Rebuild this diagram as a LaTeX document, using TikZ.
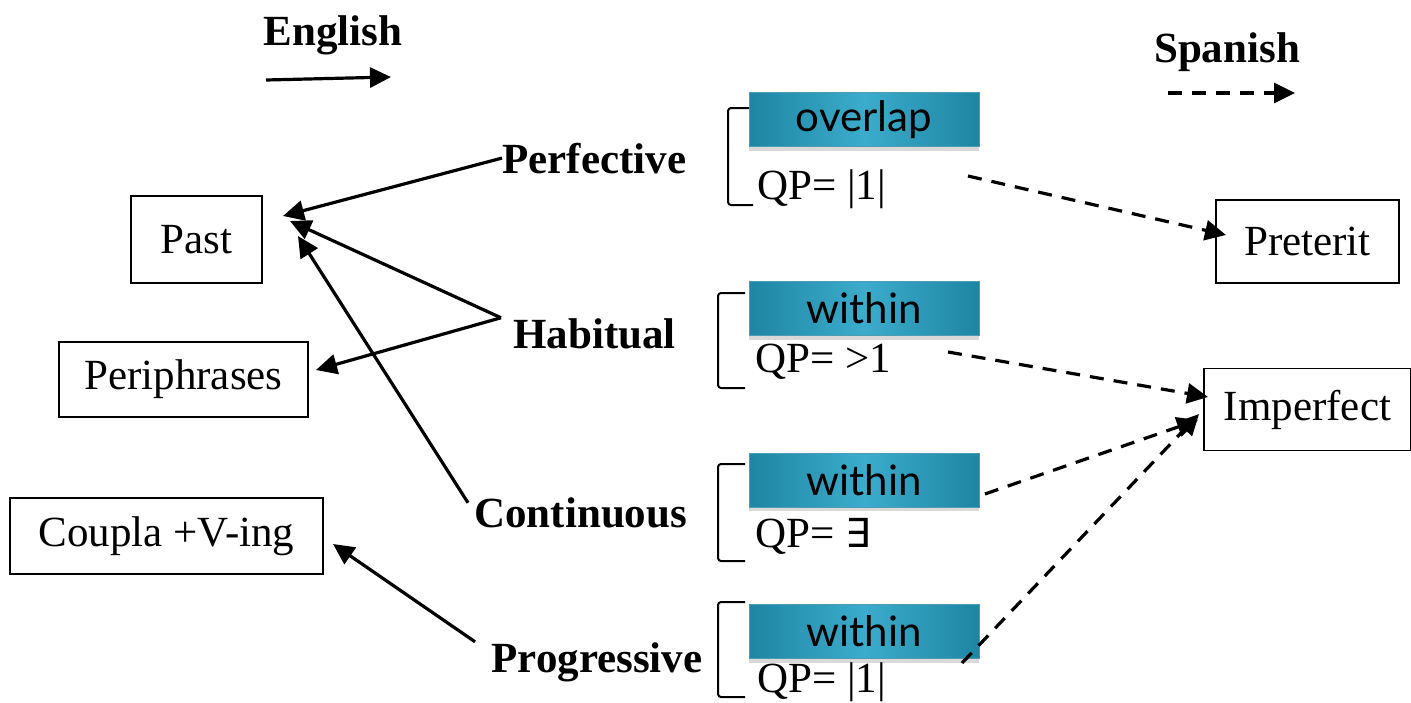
\documentclass[tikz,border=0pt]{standalone}
\usepackage{fontspec}
\setmainfont{Liberation Serif}
\newfontfamily\relfont{Lato}
\newfontfamily\symfont{DejaVu Sans}
\usetikzlibrary{arrows.meta,shadows}
\definecolor{reledge}{HTML}{1E85A3}
\definecolor{relmid}{HTML}{3CACCC}

\begin{document}
\begin{tikzpicture}[x=0.5pt,y=-0.5pt,
    term/.style={draw=black,line width=0.8pt,inner sep=0pt,minimum height=38pt,
      font=\fontsize{21.5}{24}\selectfont},
    aspect/.style={inner sep=0pt,anchor=base west,font=\fontsize{21.5}{24}\selectfont\bfseries},
    rel/.style={draw=reledge!80!white,line width=0.4pt,inner sep=0pt,
      minimum width=115pt,minimum height=27pt,
      left color=reledge,right color=reledge,middle color=relmid,
      drop shadow={shadow xshift=0pt,shadow yshift=-2pt,opacity=0.3},
      font=\relfont\fontsize{21}{24}\selectfont},
    qp/.style={inner sep=0pt,anchor=base west,font=\fontsize{21.5}{24}\selectfont},
    brack/.style={line width=1pt,rounded corners=1.5pt},
    eng/.style={line width=1.6pt,-{Triangle[length=10.5pt,width=10pt]}},
    spa/.style={eng,dash pattern=on 7pt off 5pt}]
    \useasboundingbox (0,0) rectangle (1411,702);

    % legend
    \node[aspect,anchor=base] (english) at (333,45) {English};
    \node[aspect,anchor=base] (spanish) at (1227,62) {Spanish};
    \coordinate (engA) at (266,80);
    \coordinate (engB) at (391,77);
    \coordinate (spaA) at (1168,93);
    \coordinate (spaB) at (1295,93);
    \draw[eng] (engA) -- (engB);
    \draw[spa] (spaA) -- (spaB);

    % English forms
    \node[term,minimum width=65.5pt,minimum height=43.5pt] (past) at (196.5,239.5) {Past};
    \node[term,minimum width=124.5pt,minimum height=37.5pt] (peri) at (183.5,379.5) {Periphrases};
    \node[term,minimum width=156.5pt] (coupla) at (166.5,536) {Coupla +V-ing};

    % aspects
    \node[aspect] (perf) at (502,173) {Perfective};
    \node[aspect] (hab) at (513,348) {Habitual};
    \node[aspect] (cont) at (474,527) {Continuous};
    \node[aspect] (prog) at (491,672) {Progressive};

    % Spanish forms
    \node[term,minimum width=91.5pt,minimum height=41.5pt] (pret) at (1307.5,241.5) {Preterit};
    \node[term,minimum width=103.5pt,minimum height=41pt] (imp) at (1307.5,409.5) {Imperfect};

    % brackets
    \draw[brack] (752,108) -- (728,108) -- (728,205) -- (753,205);
    \draw[brack] (745,293) -- (718,293) -- (718,388) -- (745,388);
    \draw[brack] (745,464) -- (718,464) -- (718,561) -- (745,561);
    \draw[brack] (745,602) -- (718,602) -- (718,697) -- (745,697);

    % relations
    \node[rel] (rel1) at (864,119.5) {overlap};
    \node[rel] (rel2) at (864,308.5) {within};
    \node[rel] (rel3) at (864,480) {within};
    \node[rel] (rel4) at (864,631.5) {within};

    \node[qp] (qp1) at (757,199) {QP= |1|};
    \node[qp] (qp2) at (755,372) {QP= >1};
    \node[qp] (qp3) at (755,547) {QP= {\symfont\fontsize{20}{24}\selectfont ∃}};
    \node[qp] (qp4) at (757,692) {QP= |1|};

    % arrow ends
    \coordinate (pastA) at (283,216);
    \coordinate (pastB) at (290,221);
    \coordinate (pastC) at (298,236);
    \coordinate (periA) at (316,370);
    \coordinate (coupA) at (333,544);
    \coordinate (outA) at (968,176);
    \coordinate (outB) at (948,352);
    \coordinate (outC) at (985,494);
    \coordinate (outD) at (962,663);
    \coordinate (pretA) at (1226,235);
    \coordinate (impA) at (1208,397);
    \coordinate (impB) at (1198,420);
    \coordinate (impC) at (1199,414);

    \draw[eng] (perf.west) -- (pastA);
    \draw[eng] ([xshift=-6pt]hab.north west) -- (pastB);
    \draw[eng] ([xshift=-6pt]hab.north west) -- (periA);
    \draw[eng] ([xshift=-3pt,yshift=-3pt]cont.north west) -- (pastC);
    \draw[eng] ([xshift=-8pt]prog.north west) -- (coupA);

    \draw[spa] (outA) -- (pretA);
    \draw[spa] (outB) -- (impA);
    \draw[spa] (outC) -- (impB);
    \draw[spa] (outD) -- (impC);
\end{tikzpicture}
\end{document}
